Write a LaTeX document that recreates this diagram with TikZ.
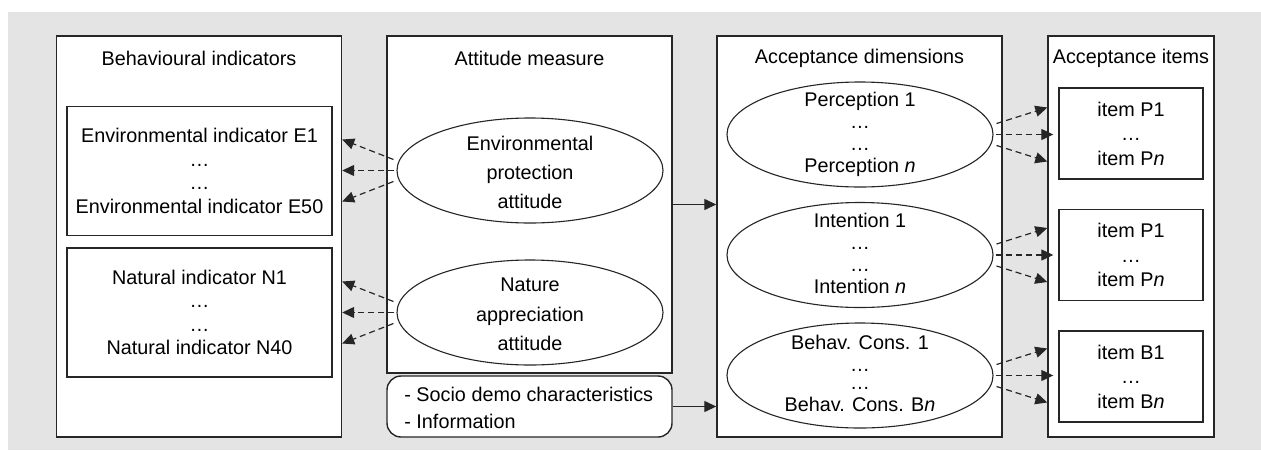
\documentclass[tikz,border=0pt]{standalone}
\usepackage{fontspec}
\setmainfont{Liberation Sans}
\usetikzlibrary{calc,arrows.meta,shapes.geometric}
\definecolor{bggray}{HTML}{E3E4E3}
\definecolor{linegray}{HTML}{262626}
\tikzset{
	panel/.style={draw=linegray, line width=0.7pt, fill=white, inner sep=0pt, minimum width=142.5pt, minimum height=200.5pt},
	indbox/.style={draw=linegray, line width=0.7pt, fill=white, align=center, minimum width=132.5pt, minimum height=64.5pt, font=\fontsize{9.9}{11.7}\selectfont},
	itembox/.style={draw=linegray, line width=0.7pt, fill=white, align=center, minimum width=72pt, minimum height=45.5pt, font=\fontsize{9.9}{12.25}\selectfont},
	latent/.style={ellipse, draw=linegray, line width=0.55pt, fill=white, inner sep=0pt, minimum width=133pt, minimum height=52.5pt},
	txt/.style={inner sep=0pt, align=center},
	title/.style={inner sep=0pt},
	socio/.style={draw=linegray, line width=0.7pt, fill=white, rounded corners=7pt, minimum width=142.5pt, minimum height=30.5pt},
	solidarrow/.style={draw=linegray, line width=0.65pt, -{Triangle[length=6pt,width=5.5pt]}},
	dasharrow/.style={draw=linegray, line width=0.6pt, dash pattern=on 3pt off 2pt, -{Triangle[length=6pt,width=5.5pt]}}
}

\begin{document}
\begin{tikzpicture}[x=0.5pt, y=-0.5pt, font=\fontsize{9.9}{11.7}\selectfont]
	%%%%% START %%%%%
	
	\fill[bggray] (8, 12) rectangle (1261, 450);
	\useasboundingbox (0, 0) rectangle (1261, 450);
	
	\node[panel] (behav) at (199, 236.5) {};
	\node[panel, minimum height=168.5pt] (attit) at (529.5, 204.5) {};
	\node[panel] (dimen) at (859.5, 236.5) {};
	\node[panel, minimum width=83pt] (items) at (1131, 236.5) {};
	
	\node[title] (behavtitle) at (199, 58) {Behavioural indicators};
	\node[title] (attittitle) at (529.5, 58) {Attitude measure};
	\node[title] (dimentitle) at (859.5, 58) {Acceptance dimensions};
	\node[title] (itemstitle) at (1131, 58) {Acceptance items};
	
	\node[indbox] (envind) at (199.5, 171) {Environmental indicator E1\\…\\…\\Environmental indicator E50};
	\node[indbox] (natind) at (199.5, 312.5) {Natural indicator N1\\…\\…\\Natural indicator N40};
	
	\node[latent] (envatt) at (530, 170.5) {};
	\node[txt, font=\fontsize{9.9}{14.7}\selectfont] (envatttext) at (530, 172.5) {Environmental\\protection\\attitude};
	\node[latent] (natatt) at (530, 312.5) {};
	\node[txt, font=\fontsize{9.9}{14.7}\selectfont] (natatttext) at (530, 314.5) {Nature\\appreciation\\attitude};
	
	\node[socio] (socio) at (529.5, 406.5) {};
	\node[txt, anchor=west, align=left, font=\fontsize{9.9}{13.5}\selectfont] (sociotext) at (404, 407.5) {- Socio demo characteristics\\- Information};
	
	\node[latent] (perc) at (860, 134.5) {};
	\node[txt, font=\fontsize{9.9}{11}\selectfont] (perctext) at (860, 134.5) {Perception 1\\…\\…\\Perception \textit{n}};
	\node[latent] (inten) at (860, 255) {};
	\node[txt, font=\fontsize{9.9}{11}\selectfont] (intentext) at (860, 253.5) {Intention 1\\…\\…\\Intention \textit{n}};
	\node[latent] (behcons) at (860, 375.5) {};
	\node[txt, font=\fontsize{9.9}{11}\selectfont] (behconstext) at (860, 373.5) {Behav. Cons. 1\\…\\[-2pt]…\\Behav. Cons. B\textit{n}};
	
	\node[itembox] (itemsa) at (1131, 133.5) {item P1\\…\\item P\textit{n}};
	\node[itembox] (itemsb) at (1131, 255) {item P1\\…\\item P\textit{n}};
	\node[itembox] (itemsc) at (1131, 376.5) {item B1\\…\\item B\textit{n}};
	
	\draw[solidarrow] (attit.east) -- (attit.east -| dimen.west);
	\draw[solidarrow] (socio.east) -- (socio.east -| dimen.west);
	
	\foreach \attnode in {envatt, natatt} {
		\draw[dasharrow] ($(\attnode.west)+(-3, -11)$) -- ($(\attnode.west -| behav.east)+(0, -31)$);
		\draw[dasharrow] ($(\attnode.west)+(-2, 0)$) -- (\attnode.west -| behav.east);
		\draw[dasharrow] ($(\attnode.west)+(-3, 11)$) -- ($(\attnode.west -| behav.east)+(0, 31)$);
	}
	
	\foreach \dimnode in {perc, inten, behcons} {
		\draw[dasharrow] ($(\dimnode.east)+(3, -11)$) -- ($(\dimnode.east -| items.west)+(0, -27)$);
		\draw[dasharrow] ($(\dimnode.east)+(2, 0)$) -- ($(\dimnode.east -| items.west)+(6, 0)$);
		\draw[dasharrow] ($(\dimnode.east)+(3, 11)$) -- ($(\dimnode.east -| items.west)+(0, 27)$);
	}
	
	%%%%% END %%%%%
\end{tikzpicture}
\end{document}
